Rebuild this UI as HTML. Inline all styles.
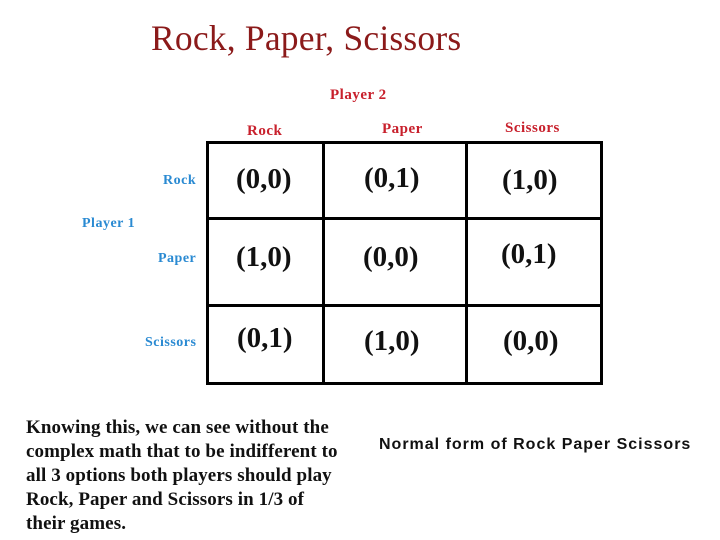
<!DOCTYPE html>
<html><head><meta charset="utf-8"><style>
body{margin:0;width:720px;height:540px;background:#fff;position:relative;overflow:hidden;font-family:"Liberation Serif",serif}
.a{position:absolute;white-space:nowrap}
.r{color:#c8202c;font-weight:bold;font-size:15px;letter-spacing:0.5px}
.b{color:#2a8ad2;font-weight:bold;font-size:14px;letter-spacing:0.5px}
.c{font-weight:bold;font-size:29px;color:#111}
.l{position:absolute;background:#000}
</style></head><body>
<div class="a" style="left:151px;top:17px;font-size:35.5px;color:#8b1a1a;letter-spacing:0.2px">Rock, Paper, Scissors</div>
<div class="a r" style="left:330px;top:87px">Player 2</div>
<div class="a r" style="left:247px;top:123px">Rock</div>
<div class="a r" style="left:382px;top:121px">Paper</div>
<div class="a r" style="left:505px;top:120px">Scissors</div>
<div class="a b" style="left:82px;top:216px">Player 1</div>
<div class="a b" style="left:163px;top:173px">Rock</div>
<div class="a b" style="left:158px;top:251px">Paper</div>
<div class="a b" style="left:145px;top:335px">Scissors</div>
<div class="l" style="left:206px;top:141px;width:397px;height:3px"></div>
<div class="l" style="left:206px;top:217px;width:397px;height:3px"></div>
<div class="l" style="left:206px;top:304px;width:397px;height:3px"></div>
<div class="l" style="left:206px;top:382px;width:397px;height:3px"></div>
<div class="l" style="left:206px;top:141px;width:3px;height:244px"></div>
<div class="l" style="left:322px;top:141px;width:3px;height:244px"></div>
<div class="l" style="left:465px;top:141px;width:3px;height:244px"></div>
<div class="l" style="left:600px;top:141px;width:3px;height:244px"></div>
<div class="a c" style="left:236px;top:163px">(0,0)</div>
<div class="a c" style="left:364px;top:162px">(0,1)</div>
<div class="a c" style="left:502px;top:164px">(1,0)</div>
<div class="a c" style="left:236px;top:241px">(1,0)</div>
<div class="a c" style="left:363px;top:241px">(0,0)</div>
<div class="a c" style="left:501px;top:238px">(0,1)</div>
<div class="a c" style="left:237px;top:322px">(0,1)</div>
<div class="a c" style="left:364px;top:325px">(1,0)</div>
<div class="a c" style="left:503px;top:325px">(0,0)</div>
<div class="a" style="left:26px;top:416px;font-size:19px;font-weight:bold;line-height:24px;color:#111;letter-spacing:0.1px">Knowing this, we can see without the<br>complex math that to be indifferent to<br>all 3 options both players should play<br>Rock, Paper and Scissors in 1/3 of<br>their games.</div>
<div class="a" style="left:379px;top:436px;font-family:'Liberation Sans',sans-serif;font-size:16px;color:#111;letter-spacing:1px;font-weight:bold">Normal form of Rock Paper Scissors</div>
</body></html>
